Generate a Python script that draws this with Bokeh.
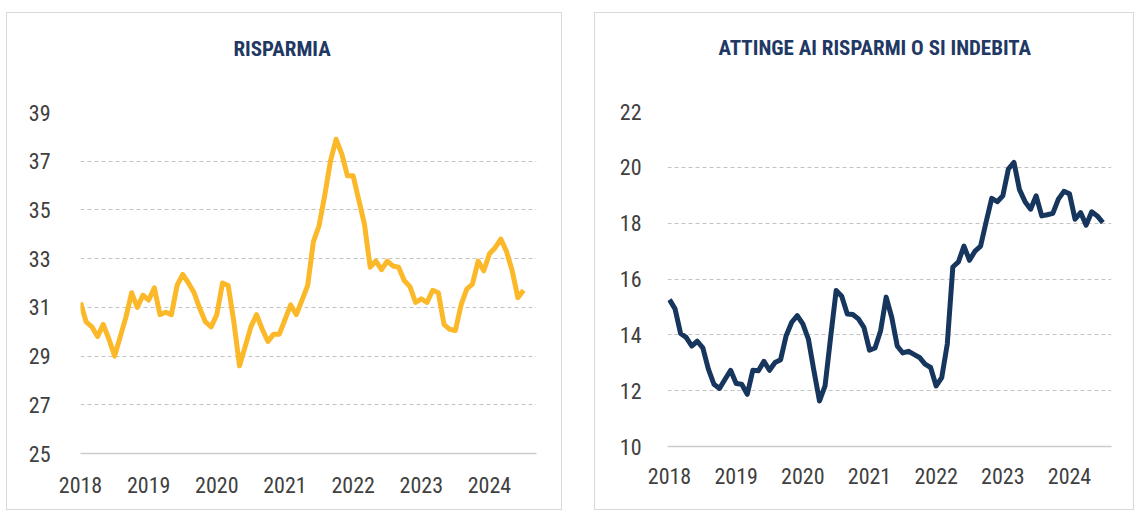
from bokeh.plotting import figure
from bokeh.layouts import row, column
from bokeh.models import FixedTicker, Range1d, Title
from bokeh.embed import file_html
from bokeh.resources import INLINE

# ---- data (monthly, Jan 2018 - Jul 2024) ----
start_year = 2018
years = [2018, 2019, 2020, 2021, 2022, 2023, 2024]

risparmia = [
    31.2, 30.4, 30.2, 29.8, 30.3, 29.7, 29.0, 29.8, 30.6, 31.6, 31.0, 31.5,
    31.3, 31.8, 30.7, 30.8, 30.7, 31.9, 32.35, 32.0, 31.6, 30.95, 30.4, 30.2,
    30.7, 32.0, 31.9, 30.4, 28.6, 29.4, 30.2, 30.7, 30.1, 29.6, 29.9, 29.9,
    30.5, 31.1, 30.7, 31.3, 31.9, 33.7, 34.35, 35.6, 37.0, 37.9, 37.3, 36.4,
    36.4, 35.4, 34.4, 32.65, 32.9, 32.55, 32.9, 32.7, 32.65, 32.1, 31.85, 31.2,
    31.35, 31.2, 31.7, 31.6, 30.3, 30.1, 30.05, 31.1, 31.75, 31.95, 32.9, 32.5,
    33.2, 33.45, 33.8, 33.3, 32.5, 31.4, 31.7,
]

attinge = [
    15.26, 14.93, 14.05, 13.91, 13.6, 13.77, 13.53, 12.77, 12.23, 12.08, 12.41, 12.73,
    12.26, 12.23, 11.87, 12.73, 12.71, 13.05, 12.73, 13.01, 13.11, 13.97, 14.45, 14.69,
    14.39, 13.85, 12.71, 11.63, 12.17, 13.91, 15.59, 15.38, 14.75, 14.73, 14.57, 14.27,
    13.45, 13.53, 14.15, 15.35, 14.63, 13.6, 13.35, 13.41, 13.3, 13.19, 12.95, 12.83,
    12.17, 12.47, 13.67, 16.43, 16.61, 17.18, 16.67, 17.0, 17.18, 18.05, 18.89, 18.77,
    18.98, 19.94, 20.18, 19.2, 18.77, 18.5, 18.98, 18.26, 18.3, 18.35, 18.86, 19.14,
    19.05, 18.14, 18.38, 17.93, 18.41, 18.26, 18.02,
]

left_ticks = [25, 27, 29, 31, 33, 35, 37, 39]
right_ticks = [10, 12, 14, 16, 18, 20, 22]

title_left = "RISPARMIA"
title_right = "ATTINGE AI RISPARMI O SI INDEBITA"

FONT = "Roboto Condensed"
TITLE_COLOR = "#1F3864"
LABEL_COLOR = "#404040"


def make_panel(values, yticks, title, color, width, xr, mb_left, mb_right,
               mb_top, mb_bottom, title_offset, gap, ystandoff, xstandoff):
    xs = [start_year + i / 12 for i in range(len(values))]
    p = figure(width=width, height=498, output_backend="svg",
               toolbar_location=None, x_range=Range1d(*xr),
               y_range=Range1d(yticks[0], yticks[-1]),
               min_border_left=mb_left, min_border_right=mb_right,
               min_border_top=mb_top, min_border_bottom=mb_bottom,
               background_fill_color="white", border_fill_color="white")
    p.styles = {"border": "1px solid #d9d9d9"}
    p.outline_line_color = None

    # blank spacer between the title and the plot area
    p.add_layout(Title(text=" ", text_font_size="1px", standoff=gap), "above")
    p.title.text = title
    p.title.align = "left"
    p.title.offset = title_offset
    p.title.standoff = 0
    p.title.text_font = FONT
    p.title.text_font_size = "21px"
    p.title.text_font_style = "bold"
    p.title.text_color = TITLE_COLOR

    p.line(xs, values, line_color=color, line_width=5, line_join="round")

    p.xgrid.visible = False
    p.ygrid.ticker = FixedTicker(ticks=yticks)
    p.ygrid.grid_line_color = "#c4c4c4"
    p.ygrid.grid_line_dash = "4 3"
    p.ygrid.grid_line_width = 1

    p.yaxis.ticker = FixedTicker(ticks=yticks)
    p.yaxis.axis_line_color = None
    p.yaxis.major_tick_line_color = None
    p.yaxis.minor_tick_line_color = None
    p.yaxis.major_tick_out = 0
    p.yaxis.major_tick_in = 0
    p.yaxis.minor_tick_out = 0
    p.yaxis.major_label_standoff = ystandoff
    p.yaxis.major_label_text_font = FONT
    p.yaxis.major_label_text_font_size = "22px"
    p.yaxis.major_label_text_color = LABEL_COLOR

    p.xaxis.ticker = FixedTicker(ticks=years)
    p.xaxis.major_label_overrides = {y: str(y) for y in years}
    p.xaxis.axis_line_color = "#cccccc"
    p.xaxis.axis_line_width = 1.5
    p.xaxis.major_tick_line_color = None
    p.xaxis.minor_tick_line_color = None
    p.xaxis.major_tick_out = 0
    p.xaxis.major_tick_in = 0
    p.xaxis.minor_tick_out = 0
    p.xaxis.major_label_standoff = xstandoff
    p.xaxis.major_label_text_font = FONT
    p.xaxis.major_label_text_font_size = "22px"
    p.xaxis.major_label_text_color = LABEL_COLOR
    return p


p1 = make_panel(risparmia, left_ticks, title_left, "#FBB829", 556,
                (2018.0, 2024.69), 73, 27, 99, 58, 153, 49, 30, 23)
p2 = make_panel(attinge, right_ticks, title_right, "#17365D", 540,
                (2017.97, 2024.63), 72, 24, 98, 65, 51, 49, 26, 21)

layout = row(column(p1), column(p2), spacing=32)
layout.margin = (12, 0, 0, 6)

open("out.html", "w").write(file_html(layout, INLINE))
